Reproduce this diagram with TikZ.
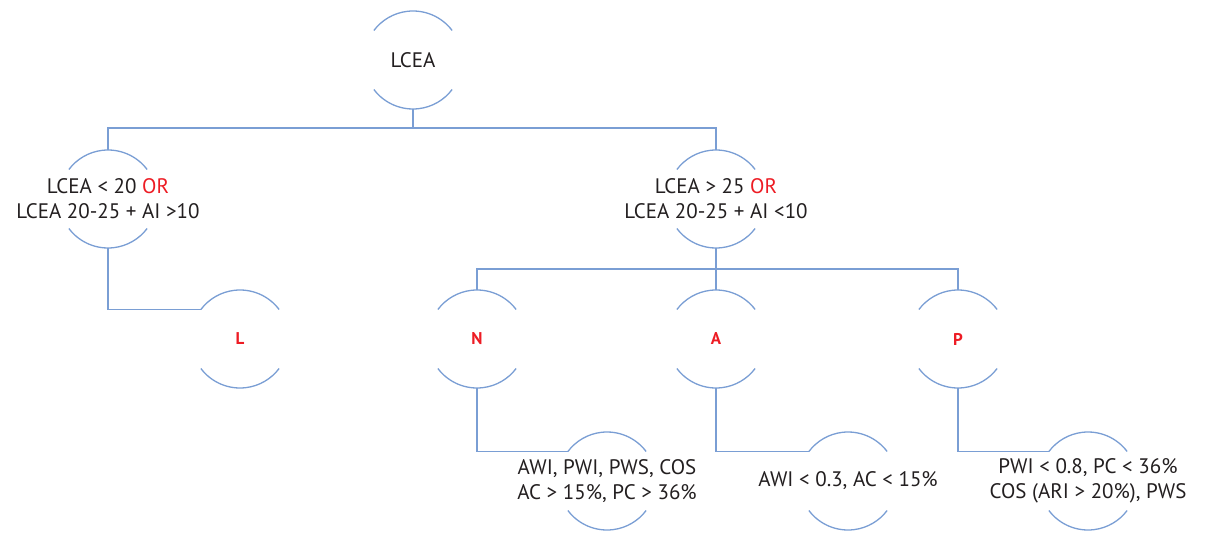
\documentclass[tikz,border=0pt]{standalone}
\usepackage{fontspec}
\setmainfont{PT Sans}
\definecolor{lineblue}{RGB}{122,158,212}
\definecolor{orred}{RGB}{237,28,36}
\definecolor{txtgray}{RGB}{35,31,32}
\tikzset{
  cnode/.style={circle, minimum size=98pt, inner sep=0pt, outer sep=0pt, draw=none},
  txt/.style={text=txtgray, align=center, font=\fontsize{21}{25}\selectfont, inner sep=0pt},
  leaf/.style={text=orred, font=\fontsize{17}{20}\selectfont\bfseries, inner sep=0pt},
  conn/.style={draw=lineblue, line width=1.3pt},
  arcline/.style={draw=lineblue, line width=1.3pt}
}
\begin{document}
\begin{tikzpicture}[x=1pt,y=1pt]
\useasboundingbox (0,0) rectangle (1206,533);
% circle nodes
\node[cnode] (lcea) at (413,473) {};
\node[cnode] (left) at (108,334) {};
\node[cnode] (right) at (716,334) {};
\node[cnode] (L) at (240,194) {};
\node[cnode] (N) at (477,194) {};
\node[cnode] (A) at (716,194) {};
\node[cnode] (P) at (958,194) {};
\node[cnode] (nc) at (607,52) {};
\node[cnode] (ac) at (848,52) {};
\node[cnode] (pc) at (1088,52) {};
% arcs
\foreach \n in {lcea,left,right,L,N,A,P,nc,ac,pc}{
  \draw[arcline] (\n.37) arc[start angle=37, end angle=143, radius=49pt];
  \draw[arcline] (\n.217) arc[start angle=217, end angle=323, radius=49pt];
}
% texts
\node[txt] (lceat) at (lcea) {LCEA};
\node[txt] (leftt) at (left) {LCEA < 20 \textcolor{orred}{OR}\\LCEA 20-25 + AI >10};
\node[txt] (rightt) at (right) {LCEA > 25 \textcolor{orred}{OR}\\LCEA 20-25 + AI <10};
\node[leaf] (Lt) at (L) {L};
\node[leaf] (Nt) at (N) {N};
\node[leaf] (At) at (A) {A};
\node[leaf] (Pt) at (P) {P};
\node[txt] (nct) at (nc) {AWI, PWI, PWS, COS\\AC > 15\%, PC > 36\%};
\node[txt] (act) at (ac) {AWI < 0.3, AC < 15\%};
\node[txt] (pct) at (pc) {PWI < 0.8, PC < 36\%\\COS (ARI > 20\%), PWS};
% connectors
\draw[conn] (lcea.south) -- ++(0,-19) -| (left.north);
\draw[conn] (lcea.south) -- ++(0,-19) -| (right.north);
\draw[conn] (left.south) |- (L.143);
\draw[conn] (right.south) -- ++(0,-21) -| (N.north);
\draw[conn] (right.south) -- ++(0,-21) -| (P.north);
\draw[conn] (right.south) -- (A.north);
\draw[conn] (N.south) |- (nc.143);
\draw[conn] (A.south) |- (ac.143);
\draw[conn] (P.south) |- (pc.143);
\end{tikzpicture}
\end{document}
